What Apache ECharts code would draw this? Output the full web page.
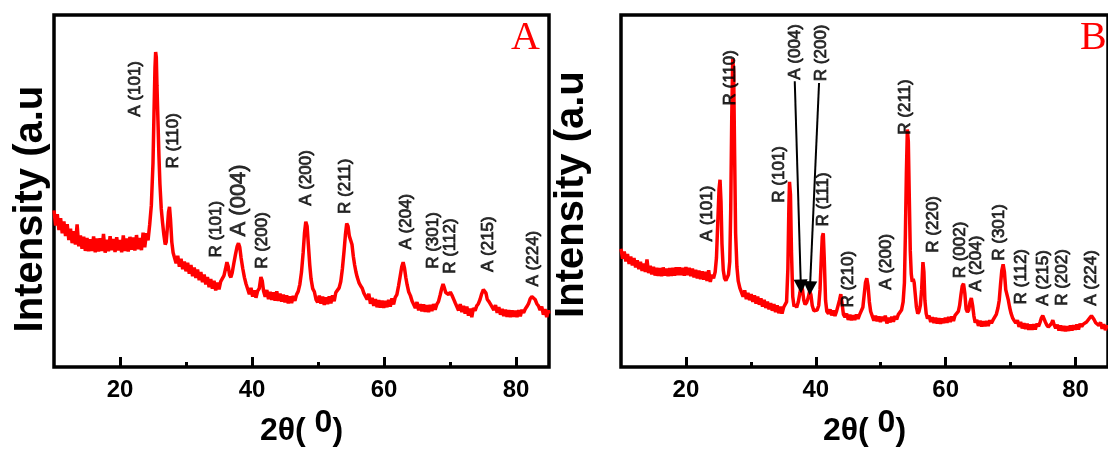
<!DOCTYPE html>
<html>
<head>
<meta charset="utf-8">
<script src="https://cdn.jsdelivr.net/npm/echarts@6/dist/echarts.min.js"></script>
<style>
html, body { margin: 0; padding: 0; background: #fff; }
#chart { width: 1108px; height: 452px; }
</style>
</head>
<body>
<div id="chart"></div>
<script>
// XRD scan, panel A  [2theta, intensity a.u.]
const scanA = [
  [10.00,44.5],[10.25,40.2],[10.50,43.4],[10.75,38.9],[11.00,42.3],[11.25,38.0],[11.50,41.4],[11.75,37.2],
  [12.00,40.6],[12.25,36.1],[12.50,39.3],[12.75,35.2],[13.00,38.6],[13.25,34.8],[13.50,40.5],[13.75,34.3],
  [14.00,37.4],[14.25,33.6],[14.50,37.0],[14.75,33.0],[15.00,36.7],[15.25,32.9],[15.50,36.3],[15.75,33.0],
  [16.00,37.1],[16.25,32.6],[16.50,36.5],[16.75,32.8],[17.00,36.6],[17.25,33.0],[17.50,37.8],[17.75,32.5],
  [18.00,36.2],[18.25,32.9],[18.50,37.2],[18.75,33.2],[19.00,36.4],[19.25,32.7],[19.50,36.9],[19.75,33.1],
  [20.00,36.1],[20.25,32.6],[20.50,37.4],[20.75,33.0],[21.00,36.5],[21.25,32.8],[21.50,37.0],[21.75,33.3],
  [22.00,36.8],[22.25,33.1],[22.50,37.5],[22.75,33.5],[23.00,36.7],[23.25,33.2],[23.50,38.2],[23.75,34.0],
  [24.00,38.0],[24.25,36.0],[24.50,40.5],[24.75,46.0],[25.00,58.0],[25.15,72.0],[25.30,85.0],[25.40,89.5],
  [25.50,88.0],[25.60,80.0],[25.75,70.0],[25.90,60.0],[26.05,52.0],[26.25,45.0],[26.45,41.0],[26.65,37.5],
  [26.85,34.8],[27.00,35.5],[27.15,39.0],[27.35,44.0],[27.50,45.5],[27.65,42.0],[27.85,35.5],[28.05,32.5],
  [28.25,32.0],[28.50,29.5],[28.75,31.6],[29.00,28.5],[29.25,30.8],[29.50,27.8],[29.75,30.0],[30.00,27.2],
  [30.25,29.6],[30.50,26.5],[30.75,29.0],[31.00,25.8],[31.25,28.3],[31.50,25.3],[31.75,27.7],[32.00,24.7],
  [32.25,27.0],[32.50,24.1],[32.75,26.3],[33.00,23.5],[33.25,25.6],[33.50,22.7],[33.75,25.0],[34.00,22.3],
  [34.25,24.5],[34.50,21.8],[34.75,24.0],[35.00,22.1],[35.25,24.3],[35.50,24.6],[35.75,26.0],[36.00,28.0],
  [36.20,29.8],[36.40,28.6],[36.60,26.2],[36.80,25.5],[37.00,26.8],[37.25,29.5],[37.50,32.0],[37.75,34.3],
  [37.95,35.2],[38.15,34.0],[38.35,31.0],[38.60,28.0],[38.85,25.5],[39.10,23.6],[39.35,23.2],[39.60,20.7],
  [39.85,22.5],[40.10,20.0],[40.35,21.8],[40.60,19.7],[40.85,21.6],[41.10,22.3],[41.35,25.6],[41.55,24.5],
  [41.75,21.6],[42.00,20.0],[42.25,21.9],[42.50,19.3],[42.75,21.4],[43.00,19.1],[43.25,21.2],[43.50,18.9],
  [43.75,21.5],[44.00,18.8],[44.25,20.9],[44.50,18.6],[44.75,20.6],[45.00,18.4],[45.25,20.4],[45.50,18.1],
  [45.75,20.1],[46.00,18.2],[46.25,20.2],[46.50,18.8],[46.75,20.6],[47.00,21.5],[47.25,23.5],[47.50,27.0],
  [47.75,32.5],[47.95,38.0],[48.15,41.3],[48.35,40.0],[48.55,34.5],[48.75,29.0],[48.95,25.0],[49.20,22.3],
  [49.45,21.4],[49.70,19.2],[49.95,18.4],[50.20,20.3],[50.45,18.0],[50.70,20.0],[50.95,17.7],[51.20,19.8],
  [51.45,17.9],[51.70,20.1],[51.95,18.1],[52.20,20.4],[52.45,18.7],[52.70,21.2],[52.95,21.0],[53.20,22.5],
  [53.45,24.3],[53.70,28.0],[53.95,33.0],[54.15,37.5],[54.35,40.8],[54.55,40.0],[54.75,37.2],[54.95,36.0],
  [55.15,34.8],[55.35,31.5],[55.55,29.0],[55.75,27.0],[55.95,25.5],[56.20,24.0],[56.45,23.1],[56.70,22.4],
  [56.95,21.0],[57.20,21.5],[57.45,19.2],[57.70,20.8],[57.95,18.0],[58.20,19.7],[58.45,17.4],[58.70,19.3],
  [58.95,17.0],[59.20,19.0],[59.45,16.9],[59.70,18.9],[59.95,16.8],[60.20,18.8],[60.45,17.0],[60.70,19.1],
  [60.95,17.2],[61.20,19.5],[61.45,17.8],[61.70,19.8],[61.95,20.6],[62.20,23.0],[62.45,25.8],[62.70,28.6],
  [62.90,29.8],[63.10,28.2],[63.30,25.5],[63.50,23.4],[63.75,21.3],[64.00,20.3],[64.25,18.8],[64.50,18.6],
  [64.75,16.8],[65.00,18.5],[65.25,16.1],[65.50,17.9],[65.75,15.8],[66.00,17.8],[66.25,15.7],[66.50,17.6],
  [66.75,15.6],[67.00,17.7],[67.25,15.9],[67.50,17.9],[67.75,16.3],[68.00,17.8],[68.25,18.6],[68.50,20.4],
  [68.75,22.4],[68.95,23.6],[69.15,22.5],[69.35,21.2],[69.55,21.6],[69.80,20.6],[70.05,21.3],[70.30,20.4],
  [70.55,19.3],[70.80,18.2],[71.05,18.4],[71.30,16.1],[71.55,17.9],[71.80,15.6],[72.05,17.4],[72.30,15.2],
  [72.55,17.2],[72.80,14.6],[73.05,16.6],[73.30,14.2],[73.55,16.8],[73.80,16.0],[74.05,17.4],[74.30,18.0],
  [74.55,19.2],[74.80,20.8],[75.05,22.0],[75.25,22.3],[75.45,21.0],[75.65,19.2],[75.90,18.6],[76.15,17.8],
  [76.40,17.9],[76.65,16.2],[76.90,17.6],[77.15,15.4],[77.40,17.0],[77.65,14.9],[77.90,16.5],[78.15,14.5],
  [78.40,16.3],[78.65,14.3],[78.90,16.2],[79.15,14.2],[79.40,16.1],[79.65,14.3],[79.90,16.0],[80.15,14.2],
  [80.40,16.2],[80.65,14.4],[80.90,16.3],[81.15,15.4],[81.40,16.5],[81.65,17.2],[81.90,18.0],[82.15,19.4],
  [82.40,20.0],[82.65,20.3],[82.90,19.2],[83.15,18.0],[83.40,17.4],[83.65,16.2],[83.90,17.2],[84.15,14.9],
  [84.40,16.5],[84.65,14.2],[84.90,16.1],[85.00,15.2]
];

// XRD scan, panel B
const scanB = [
  [10.00,33.6],[10.25,30.8],[10.50,32.8],[10.75,30.0],[11.00,32.1],[11.25,29.3],[11.50,31.4],[11.75,28.9],
  [12.00,31.0],[12.25,28.3],[12.50,30.3],[12.75,27.8],[13.00,29.9],[13.25,27.3],[13.50,29.4],[13.75,27.0],
  [14.00,30.6],[14.25,26.7],[14.50,28.8],[14.75,26.3],[15.00,28.5],[15.25,26.0],[15.50,28.2],[15.75,25.9],
  [16.00,28.1],[16.25,25.8],[16.50,28.3],[16.75,26.0],[17.00,28.0],[17.25,25.8],[17.50,28.1],[17.75,25.9],
  [18.00,28.2],[18.25,26.0],[18.50,28.3],[18.75,26.1],[19.00,28.3],[19.25,26.1],[19.50,28.2],[19.75,26.0],
  [20.00,28.4],[20.25,26.1],[20.50,28.2],[20.75,25.8],[21.00,28.0],[21.25,25.5],[21.50,27.6],[21.75,25.2],
  [22.00,27.4],[22.25,25.0],[22.50,27.2],[22.75,24.8],[23.00,27.1],[23.25,24.5],[23.50,27.5],[23.75,24.2],
  [24.00,26.2],[24.25,25.2],[24.50,27.0],[24.70,31.0],[24.90,41.0],[25.10,50.5],[25.25,53.2],[25.40,47.0],
  [25.55,35.0],[25.75,27.5],[25.95,25.2],[26.15,24.6],[26.35,25.0],[26.55,26.2],[26.75,30.0],[26.90,45.0],
  [27.05,70.0],[27.20,87.6],[27.35,84.0],[27.50,60.0],[27.65,38.0],[27.85,28.5],[28.05,24.5],[28.30,22.5],
  [28.55,22.4],[28.80,20.0],[29.05,21.8],[29.30,19.3],[29.55,21.1],[29.80,19.0],[30.05,20.7],[30.30,18.5],
  [30.55,20.4],[30.80,18.0],[31.05,20.0],[31.30,17.7],[31.55,19.5],[31.80,17.2],[32.05,19.1],[32.30,16.8],
  [32.55,18.6],[32.80,16.4],[33.05,18.2],[33.30,16.0],[33.55,17.9],[33.80,15.6],[34.05,17.5],[34.30,15.3],
  [34.55,17.2],[34.80,15.2],[35.05,17.0],[35.30,16.8],[35.50,18.5],[35.70,28.0],[35.85,45.0],[35.95,52.6],
  [36.10,49.0],[36.25,33.0],[36.45,20.0],[36.65,17.2],[36.85,17.8],[37.05,16.9],[37.30,18.5],[37.55,21.0],
  [37.75,23.4],[37.95,22.0],[38.15,19.0],[38.35,17.8],[38.60,18.4],[38.85,19.8],[39.05,21.6],[39.25,20.5],
  [39.45,17.5],[39.70,16.0],[39.95,15.5],[40.20,16.2],[40.45,17.5],[40.65,22.0],[40.85,31.0],[41.00,37.0],
  [41.15,38.0],[41.30,31.0],[41.50,19.0],[41.70,15.8],[41.95,15.2],[42.20,16.4],[42.45,14.7],[42.70,16.1],
  [42.95,14.5],[43.20,15.9],[43.45,16.4],[43.65,19.0],[43.85,20.7],[44.05,18.0],[44.25,15.0],[44.50,14.2],
  [44.75,15.2],[45.00,13.4],[45.25,14.9],[45.50,13.3],[45.75,14.7],[46.00,13.4],[46.25,14.9],[46.50,13.7],
  [46.75,14.9],[47.00,15.4],[47.25,17.0],[47.45,20.5],[47.65,24.0],[47.85,25.2],[48.05,23.0],[48.25,18.5],
  [48.45,15.8],[48.70,14.5],[48.95,13.2],[49.20,14.6],[49.45,13.0],[49.70,14.4],[49.95,12.8],[50.20,14.3],
  [50.45,13.1],[50.70,14.6],[50.95,12.4],[51.20,14.0],[51.45,12.7],[51.70,14.3],[51.95,12.9],[52.20,14.5],
  [52.45,13.5],[52.70,14.9],[52.95,15.0],[53.20,16.2],[53.45,18.5],[53.65,24.0],[53.80,38.0],[53.95,55.0],
  [54.10,67.5],[54.25,64.0],[54.40,48.0],[54.55,33.0],[54.70,26.5],[54.85,24.2],[55.00,25.0],[55.15,24.0],
  [55.30,21.0],[55.50,17.0],[55.70,15.2],[55.90,15.8],[56.10,17.5],[56.30,22.0],[56.50,29.8],[56.65,27.0],
  [56.80,19.0],[57.00,15.2],[57.20,13.8],[57.45,14.6],[57.70,12.8],[57.95,14.2],[58.20,12.5],[58.45,14.0],
  [58.70,12.4],[58.95,13.9],[59.20,12.3],[59.45,13.8],[59.70,12.5],[59.95,14.0],[60.20,12.6],[60.45,14.2],
  [60.70,12.8],[60.95,14.4],[61.20,13.1],[61.45,14.7],[61.70,14.6],[61.95,15.8],[62.15,17.5],[62.35,20.5],
  [62.55,23.0],[62.75,23.7],[62.95,21.0],[63.15,16.5],[63.35,15.6],[63.55,16.2],[63.75,18.5],[63.95,19.6],
  [64.15,17.5],[64.35,14.5],[64.55,12.6],[64.80,13.4],[65.05,11.7],[65.30,13.2],[65.55,11.5],[65.80,13.0],
  [66.05,11.6],[66.30,13.1],[66.55,11.7],[66.80,13.3],[67.05,12.5],[67.30,13.4],[67.55,14.2],[67.80,15.0],
  [68.05,16.8],[68.25,19.0],[68.45,23.5],[68.65,27.5],[68.85,29.2],[69.05,27.0],[69.25,22.0],[69.45,20.5],
  [69.65,19.0],[69.85,17.0],[70.05,15.4],[70.30,14.0],[70.55,13.2],[70.80,12.5],[71.05,13.3],[71.30,11.4],
  [71.55,12.8],[71.80,11.0],[72.05,12.5],[72.30,10.8],[72.55,12.3],[72.80,10.6],[73.05,12.1],[73.30,10.6],
  [73.55,12.2],[73.80,10.7],[74.05,12.3],[74.30,11.6],[74.55,12.8],[74.75,14.0],[74.95,14.6],[75.15,14.2],
  [75.35,12.8],[75.55,12.0],[75.80,11.4],[76.05,11.8],[76.30,12.4],[76.50,13.3],[76.70,12.0],[76.95,11.0],
  [77.20,12.0],[77.45,10.4],[77.70,11.8],[77.95,10.3],[78.20,11.7],[78.45,10.2],[78.70,11.6],[78.95,10.3],
  [79.20,11.8],[79.45,10.4],[79.70,11.9],[79.95,10.6],[80.20,12.1],[80.45,10.7],[80.70,12.3],[80.95,11.5],
  [81.20,12.2],[81.45,12.0],[81.70,12.8],[81.95,13.3],[82.20,14.0],[82.45,14.6],[82.65,14.4],[82.85,13.5],
  [83.10,12.6],[83.35,12.9],[83.60,11.8],[83.85,12.7],[84.10,10.9],[84.35,12.2],[84.60,10.5],[84.85,11.8],
  [85.00,11.0]
];

// peak labels (text starts at [angle, height] and runs upward)
const labelsA  = ['A (101)', 'R (110)', 'R (101)', 'A (004)', 'R (200)', 'A (200)', 'R (211)', 'A (204)', 'R (301)', 'R (112)', 'A (215)', 'A (224)'];
const labelXA  = [22.3, 28.1, 34.6, 38.0, 41.5, 48.3, 54.1, 63.4, 67.5, 70.0, 75.8, 82.6];
const labelYA  = [71.1, 56.4, 31.1, 37.1, 27.9, 45.8, 43.5, 33.4, 27.9, 26.5, 27.0, 22.9];

const labelsB  = ['A (101)', 'R (110)', 'R (101)', 'A (004)', 'R (200)', 'R (111)', 'R (210)', 'A (200)', 'R (211)', 'R (220)', 'R (002)', 'A (204)', 'R (301)', 'R (112)', 'A (215)', 'R (202)', 'A (224)'];
const labelXB  = [23.3, 26.9, 34.4, 36.8, 40.8, 41.2, 44.95, 50.8, 53.8, 58.1, 62.3, 64.65, 68.2, 71.7, 75.0, 77.9, 82.5];
const labelYB  = [35.7, 74.3, 46.7, 81.6, 81.2, 39.9, 16.9, 22.0, 66.0, 32.5, 25.2, 21.5, 30.2, 17.8, 17.4, 17.4, 17.4];

// arrows in panel B: [fromAngle, fromHeight, toAngle, toHeight]
const arrowsB = [
  [36.76, 81.2, 37.70, 22.9],
  [40.50, 80.7, 39.10, 22.4]
];

const majorTicks = [20, 40, 60, 80];
const minorTicks = [30, 50, 70];

const FONT = 'Liberation Sans, Arial, sans-serif';

const chart = echarts.init(document.getElementById('chart'), null, { renderer: 'canvas' });

function xAxes(gridIndex) {
  return [
    {
      gridIndex: gridIndex, type: 'value', min: 10, max: 85, position: 'bottom',
      name: '{m|2θ( }{s|0}{m|)}', nameLocation: 'middle', nameGap: 33,
      nameTextStyle: {
        rich: {
          m: { fontSize: 32, fontWeight: 'bold', fontFamily: FONT, color: '#000', lineHeight: 40, verticalAlign: 'bottom' },
          s: { fontSize: 32, fontWeight: 'bold', fontFamily: FONT, color: '#000', lineHeight: 40, verticalAlign: 'bottom', padding: [0, 0, 8, 0] }
        }
      },
      axisLine: { show: false },
      axisTick: { show: true, inside: true, length: 10, customValues: majorTicks, lineStyle: { color: '#000', width: 3 } },
      axisLabel: { show: true, customValues: majorTicks, margin: 11, fontSize: 24, fontWeight: 'bold', fontFamily: FONT, color: '#000' },
      splitLine: { show: false }
    },
    {
      gridIndex: gridIndex, type: 'value', min: 10, max: 85, position: 'bottom',
      axisLine: { show: false },
      axisTick: { show: true, inside: true, length: 5, customValues: minorTicks, lineStyle: { color: '#000', width: 3 } },
      axisLabel: { show: false },
      splitLine: { show: false }
    }
  ];
}

function yAxis(gridIndex, gap, shift) {
  return {
    gridIndex: gridIndex, type: 'value', min: 0, max: 100,
    name: 'Intensity (a.u', nameLocation: 'middle', nameGap: gap,
    nameTextStyle: { fontSize: 40, fontWeight: 'bold', fontFamily: FONT, color: '#000', padding: [0, shift, 0, 0] },
    axisLine: { show: false }, axisTick: { show: false }, axisLabel: { show: false }, splitLine: { show: false }
  };
}

function peakLabels(names, xs, ys, xIdx, yIdx, bigIndex) {
  return {
    type: 'scatter', xAxisIndex: xIdx, yAxisIndex: yIdx, symbolSize: 1, silent: true, z: 5,
    itemStyle: { color: 'rgba(0,0,0,0)' },
    label: {
      show: true, formatter: p => p.name, rotate: 90, position: 'inside', align: 'left', verticalAlign: 'middle',
      fontSize: 17, fontFamily: FONT, color: '#000', textBorderColor: '#000', textBorderWidth: 0.8
    },
    data: names.map((n, i) => {
      const item = { name: n, value: [xs[i], ys[i]] };
      if (i === bigIndex) item.label = { fontSize: 22 };
      return item;
    })
  };
}

const scanLine = (data, xIdx, yIdx) => ({
  type: 'line', xAxisIndex: xIdx, yAxisIndex: yIdx, data: data, showSymbol: false, smooth: false,
  lineStyle: { color: '#ff0000', width: 3.5 }, itemStyle: { color: '#ff0000' }, z: 3
});

const labelsBSeries = peakLabels(labelsB, labelXB, labelYB, 2, 1, -1);
labelsBSeries.markLine = {
  silent: true, symbol: ['none', 'triangle'], symbolSize: 14, animation: false,
  lineStyle: { color: '#000', width: 2, type: 'solid' }, label: { show: false },
  data: arrowsB.map(a => [{ coord: [a[0], a[1]] }, { coord: [a[2], a[3]] }])
};

chart.setOption({
  animation: false,
  backgroundColor: '#fff',
  grid: [
    { left: 54, top: 15, width: 495, height: 363, show: true, borderColor: '#000', borderWidth: 3.5, backgroundColor: 'transparent' },
    { left: 621, top: 15, width: 495, height: 363, show: true, borderColor: '#000', borderWidth: 3.5, backgroundColor: 'transparent' }
  ],
  xAxis: [...xAxes(0), ...xAxes(1)],
  yAxis: [yAxis(0, 3, 36), yAxis(1, 29, 7)],
  graphic: [
    { type: 'text', left: 511, top: 18, style: { text: 'A', fontSize: 40, fontFamily: 'Liberation Serif, Times New Roman, serif', fill: '#ff0000' } },
    { type: 'text', left: 1080, top: 18, style: { text: 'B', fontSize: 40, fontFamily: 'Liberation Serif, Times New Roman, serif', fill: '#ff0000' } }
  ],
  series: [
    scanLine(scanA, 0, 0),
    scanLine(scanB, 2, 1),
    peakLabels(labelsA, labelXA, labelYA, 0, 0, 3),
    labelsBSeries
  ]
});
</script>
</body>
</html>
